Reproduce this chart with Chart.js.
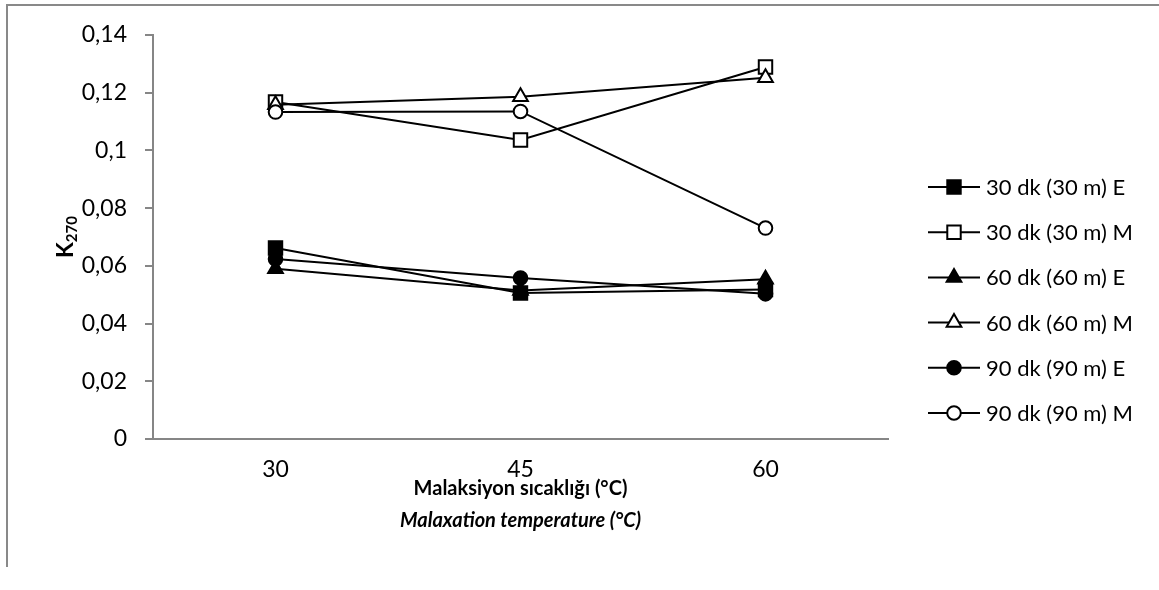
<!DOCTYPE html>
<html>
<head>
<meta charset="utf-8">
<script src="https://cdn.jsdelivr.net/npm/chart.js@4"></script>
<style>
  html, body { margin: 0; padding: 0; background: #fff; }
  #wrap { position: relative; width: 1159px; height: 590px; overflow: hidden; }
  #frame { position: absolute; left: 6px; top: 4px; width: 1160px; height: 561px;
           border-left: 2px solid #898989; border-top: 2px solid #898989; }
  canvas { position: absolute; left: 0; top: 0; }
</style>
</head>
<body>
<div id="wrap">
  <div id="frame"></div>
  <canvas id="chart" width="1159" height="590"></canvas>
</div>
<script>
// Malaksiyon sıcaklığı -> K270
const categories = ['30', '45', '60'];
const yTickLabels = ['0', '0,02', '0,04', '0,06', '0,08', '0,1', '0,12', '0,14'];

const seriesNames = [
  '30 dk (30 m) E', '30 dk (30 m) M',
  '60 dk (60 m) E', '60 dk (60 m) M',
  '90 dk (90 m) E', '90 dk (90 m) M'
];
const dk30E = [0.0662, 0.0506, 0.0518];
const dk30M = [0.1168, 0.1036, 0.1289];
const dk60E = [0.0590, 0.0515, 0.0554];
const dk60M = [0.1158, 0.1186, 0.1252];
const dk90E = [0.0624, 0.0558, 0.0503];
const dk90M = [0.1133, 0.1135, 0.0731];

const FONT = 'Lato';
const AXIS_GREY = '#868686';

// marker per series: shape, filled?, radius
const markers = [
  { style: 'rect', fill: true, r: 9.5 },
  { style: 'rect', fill: false, r: 9.5 },
  { style: 'triangle', fill: true, r: 8.5 },
  { style: 'triangle', fill: false, r: 8.5 },
  { style: 'circle', fill: true, r: 6.8 },
  { style: 'circle', fill: false, r: 6.8 }
];
const allValues = [dk30E, dk30M, dk60E, dk60M, dk90E, dk90M];

const datasets = allValues.map((vals, i) => ({
  label: seriesNames[i],
  data: vals,
  borderColor: '#000',
  borderWidth: 2,
  pointStyle: markers[i].style,
  pointRadius: markers[i].r,
  pointHoverRadius: markers[i].r,
  pointBackgroundColor: markers[i].fill ? '#000' : '#fff',
  pointBorderColor: '#000',
  pointBorderWidth: 2,
  tension: 0,
  fill: false,
  order: 5 - i
}));

function drawMarker(ctx, m, x, y) {
  ctx.save();
  ctx.fillStyle = m.fill ? '#000' : '#fff';
  ctx.strokeStyle = '#000';
  ctx.lineWidth = 2;
  if (Chart.helpers && Chart.helpers.drawPoint) {
    Chart.helpers.drawPoint(ctx, { pointStyle: m.style, radius: m.r, rotation: 0, borderWidth: 2 }, x, y);
  }
  ctx.restore();
}

const extras = {
  id: 'extras',
  afterDraw(chart) {
    const ctx = chart.ctx;
    const area = chart.chartArea;
    ctx.save();
    ctx.fillStyle = '#000';

    // x axis title, two lines
    const cx = (area.left + area.right) / 2;
    ctx.textAlign = 'center';
    ctx.textBaseline = 'middle';
    ctx.font = 'bold 20px ' + FONT;
    ctx.fillText('Malaksiyon sıcaklığı (°C)', cx, 489);
    ctx.font = 'italic bold 20px ' + FONT;
    ctx.fillText('Malaxation temperature (°C)', cx, 521);

    // y axis title K270 with subscript
    ctx.save();
    ctx.translate(66, (area.top + area.bottom) / 2);
    ctx.rotate(-Math.PI / 2);
    ctx.textAlign = 'left';
    ctx.textBaseline = 'middle';
    ctx.font = 'bold 23px ' + FONT;
    const wK = ctx.measureText('K').width;
    ctx.font = 'bold 15px ' + FONT;
    const wSub = ctx.measureText('270').width;
    const x0 = -(wK + wSub) / 2;
    ctx.font = 'bold 23px ' + FONT;
    ctx.fillText('K', x0, 0);
    ctx.font = 'bold 15px ' + FONT;
    ctx.fillText('270', x0 + wK, 6);
    ctx.restore();

    // legend: line + marker + label
    ctx.font = '22px ' + FONT;
    ctx.textAlign = 'left';
    ctx.textBaseline = 'middle';
    seriesNames.forEach((name, i) => {
      const y = 187 + i * 45.2;
      ctx.strokeStyle = '#000';
      ctx.lineWidth = 2;
      ctx.beginPath();
      ctx.moveTo(928, y);
      ctx.lineTo(980, y);
      ctx.stroke();
      drawMarker(ctx, markers[i], 954, y);
      ctx.fillStyle = '#000';
      ctx.fillText(name, 986, y + 1);
    });
    ctx.restore();
  }
};

new Chart(document.getElementById('chart'), {
  type: 'line',
  data: { labels: categories, datasets: datasets },
  options: {
    responsive: false,
    animation: false,
    layout: { padding: { top: 35, right: 271, left: 0, bottom: 0 } },
    plugins: { legend: { display: false }, tooltip: { enabled: false } },
    scales: {
      x: {
        type: 'category',
        offset: true,
        grid: { display: false },
        border: { color: AXIS_GREY, width: 2 },
        ticks: { color: '#000', font: { family: FONT, size: 23 }, padding: 9 },
        afterFit: s => { s.height = 151; }
      },
      y: {
        min: 0,
        max: 0.14,
        grid: { display: true, drawOnChartArea: false, drawTicks: true, tickLength: 8, color: AXIS_GREY, lineWidth: 2 },
        border: { color: AXIS_GREY, width: 2 },
        ticks: {
          stepSize: 0.02,
          color: '#000',
          font: { family: FONT, size: 23 },
          padding: 18,
          callback: (v, i) => yTickLabels[i]
        },
        afterFit: s => { s.width = 153; }
      }
    }
  },
  plugins: [extras]
});
</script>
</body>
</html>
